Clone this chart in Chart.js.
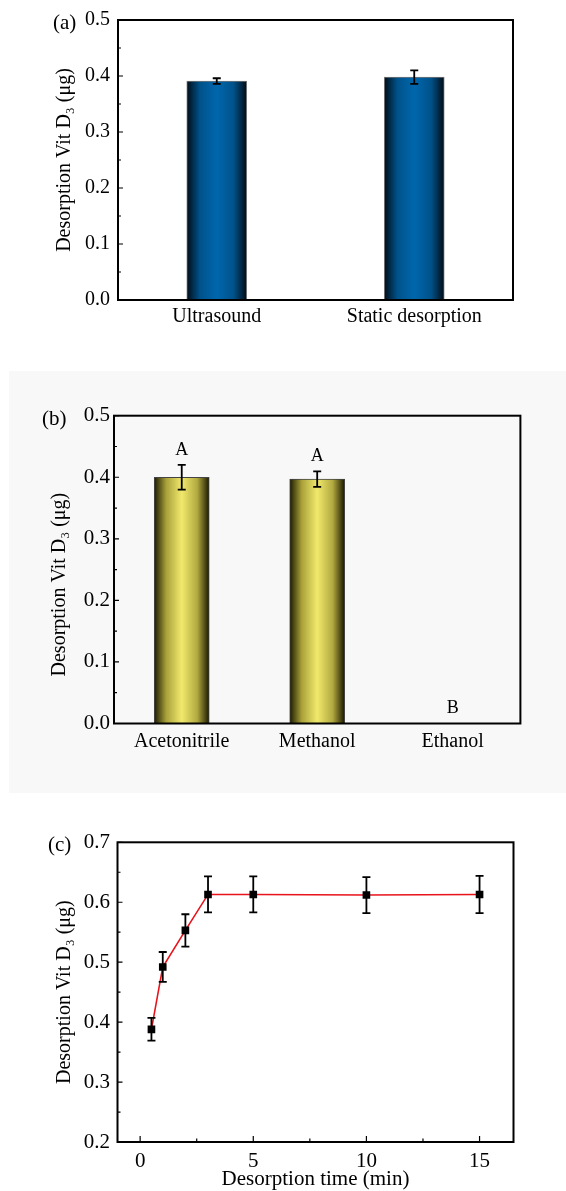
<!DOCTYPE html>
<html>
<head>
<meta charset="utf-8">
<title>Desorption of Vit D3</title>
<script src="https://cdn.jsdelivr.net/npm/chart.js@4"></script>
<style>
    html, body { margin: 0; padding: 0; background: #fff; }
    body { width: 566px; height: 1191px; position: relative; overflow: hidden; font-family: "Liberation Serif", serif; }
    .panel { position: absolute; left: 0; }
    .tag { position: absolute; font-size: 21px; line-height: 1; color: #000; }
    #bgB { position: absolute; left: 9px; top: 371px; width: 557px; height: 422px; background: #f8f8f8; }
</style>
</head>
<body>
<div id="bgB"></div>
<canvas id="chartA" class="panel" style="top:0px" width="566" height="345"></canvas>
<canvas id="chartB" class="panel" style="top:370px" width="566" height="410"></canvas>
<canvas id="chartC" class="panel" style="top:790px" width="566" height="401"></canvas>
<div class="tag" style="left:53px;top:12px">(a)</div>
<div class="tag" style="left:42px;top:408px">(b)</div>
<div class="tag" style="left:48px;top:834px">(c)</div>

<script>
// (a) desorption mode
const modeCats = ['Ultrasound', 'Static desorption'];
const modeVals = [0.391, 0.398];
const modeErr = [0.005, 0.012];

// (b) desorption solvent
const solventCats = ['Acetonitrile', 'Methanol', 'Ethanol'];
const solventVals = [0.400, 0.397, 0];
const solventErr = [0.020, 0.0125, 0];
const solventLetters = ['A', 'A', 'B'];

// (c) desorption time
const timeVals = [0.5, 1, 2, 3, 5, 10, 15];
const amountVals = [0.388, 0.492, 0.553, 0.613, 0.613, 0.612, 0.613];
const amountErr = [0.019, 0.025, 0.027, 0.030, 0.030, 0.030, 0.031];

// tick positions (labels only on the major ones)
const barYTicks = [0, 0.05, 0.1, 0.15, 0.2, 0.25, 0.3, 0.35, 0.4, 0.45, 0.5];
const timeYTicks = [0.2, 0.25, 0.3, 0.35, 0.4, 0.45, 0.5, 0.55, 0.6, 0.65, 0.7];
const timeXTicks = [0, 2.5, 5, 7.5, 10, 12.5, 15];

const yTitle = 'Desorption Vit D\u2083 (\u03bcg)';

const blueStops = [[0, '#020d18'], [0.22, '#00528a'], [0.5, '#0067ad'], [0.78, '#00528a'], [1, '#020b14']];
const yellowStops = [[0, '#1c1a00'], [0.22, '#aaa23a'], [0.5, '#f1e96c'], [0.78, '#b2aa40'], [1, '#1a1800']];

function serif(size, lineHeight) {
    return { family: 'Liberation Serif', size: size, lineHeight: lineHeight || 1.2 };
}

function isMultiple(v, step) {
    return Math.abs(v / step - Math.round(v / step)) < 1e-6;
}

function barGradient(ctx, stops, width) {
    const chart = ctx.chart;
    const xScale = chart.scales.x;
    if (ctx.type !== 'data' || !xScale) return stops[2][1];
    const cx = xScale.getPixelForValue(ctx.dataIndex);
    if (!isFinite(cx)) return stops[2][1];
    const g = chart.ctx.createLinearGradient(cx - width / 2, 0, cx + width / 2, 0);
    stops.forEach(s => g.addColorStop(s[0], s[1]));
    return g;
}

// error bars, optional letters, box frame and inward ticks
function decorPlugin(cfg) {
    return {
        id: 'decor',
        afterDatasetsDraw(chart) {
            const ctx = chart.ctx;
            const xs = chart.scales.x;
            const ys = chart.scales.y;
            const area = chart.chartArea;
            ctx.save();
            ctx.strokeStyle = '#000';
            ctx.lineWidth = 1.8;
            cfg.values.forEach((v, i) => {
                const e = cfg.errors[i];
                const x = xs.getPixelForValue(cfg.xs ? cfg.xs[i] : i);
                if (e > 0) {
                    const yt = ys.getPixelForValue(v + e);
                    const yb = ys.getPixelForValue(v - e);
                    ctx.beginPath();
                    ctx.moveTo(x, yt); ctx.lineTo(x, yb);
                    ctx.moveTo(x - 4, yt); ctx.lineTo(x + 4, yt);
                    ctx.moveTo(x - 4, yb); ctx.lineTo(x + 4, yb);
                    ctx.stroke();
                }
                if (cfg.letters) {
                    ctx.fillStyle = '#000';
                    ctx.font = '18px "Liberation Serif"';
                    ctx.textAlign = 'center';
                    ctx.textBaseline = 'middle';
                    ctx.fillText(cfg.letters[i], x, ys.getPixelForValue(v + e) - 15);
                }
            });

            // inward ticks
            ctx.lineWidth = 1.2;
            ctx.beginPath();
            ys.ticks.forEach(t => {
                const y = ys.getPixelForValue(t.value);
                const len = isMultiple(t.value, 0.1) ? 5 : 3;
                ctx.moveTo(area.left, y); ctx.lineTo(area.left + len, y);
            });
            if (cfg.xTicks) {
                xs.ticks.forEach(t => {
                    const x = xs.getPixelForValue(t.value);
                    const len = isMultiple(t.value, 5) ? 6 : 3.5;
                    ctx.moveTo(x, area.bottom); ctx.lineTo(x, area.bottom - len);
                });
            }
            ctx.stroke();

            // frame
            ctx.lineWidth = 2;
            ctx.strokeRect(area.left, area.top, area.right - area.left, area.bottom - area.top);
            ctx.restore();
        }
    };
}

function valueAxis(ticks, min, max, fontSize, pad, width, titleText, titlePad) {
    return {
        min: min,
        max: max,
        afterBuildTicks: s => { s.ticks = ticks.map(v => ({ value: v })); },
        afterFit: s => { s.width = width; },
        grid: { display: false, drawTicks: false },
        border: { display: false },
        ticks: {
            autoSkip: false,
            color: '#000',
            font: serif(fontSize),
            padding: pad,
            callback: v => isMultiple(v, 0.1) ? v.toFixed(1) : ''
        },
        title: {
            display: true,
            text: titleText,
            color: '#000',
            font: serif(20),
            padding: { top: titlePad, bottom: 0 }
        }
    };
}

function setupModeChart() {
    new Chart(document.getElementById('chartA'), {
        type: 'bar',
        data: {
            labels: modeCats,
            datasets: [{
                data: modeVals,
                backgroundColor: ctx => barGradient(ctx, blueStops, 60),
                borderColor: '#777',
                borderWidth: 1,
                barThickness: 60
            }]
        },
        options: {
            responsive: false,
            animation: false,
            layout: { padding: { top: 19, right: 53, left: 0, bottom: 0 } },
            plugins: { legend: { display: false }, tooltip: { enabled: false } },
            scales: {
                x: {
                    grid: { display: false, drawTicks: false },
                    border: { display: false },
                    ticks: { color: '#000', font: serif(20), padding: 5 },
                    afterFit: s => { s.height = 45; }
                },
                y: valueAxis(barYTicks, 0, 0.5, 20, 8, 118, yTitle, 53)
            }
        },
        plugins: [decorPlugin({ values: modeVals, errors: modeErr })]
    });
}

function setupSolventChart() {
    // trailing spaces push the title a little down, as in the figure
    const title = yTitle + '\u00a0\u00a0\u00a0\u00a0\u00a0\u00a0';
    new Chart(document.getElementById('chartB'), {
        type: 'bar',
        data: {
            labels: solventCats,
            datasets: [{
                data: solventVals,
                backgroundColor: ctx => barGradient(ctx, yellowStops, 55),
                borderColor: '#444',
                borderWidth: 1,
                barThickness: 55
            }]
        },
        options: {
            responsive: false,
            animation: false,
            layout: { padding: { top: 45.7, right: 45.6, left: 0, bottom: 0 } },
            plugins: { legend: { display: false }, tooltip: { enabled: false } },
            scales: {
                x: {
                    grid: { display: false, drawTicks: false },
                    border: { display: false },
                    ticks: { color: '#000', font: serif(20), padding: 6 },
                    afterFit: s => { s.height = 56.5; }
                },
                y: valueAxis(barYTicks, 0, 0.5, 21, 4, 114, title, 47.6)
            }
        },
        plugins: [decorPlugin({ values: solventVals, errors: solventErr, letters: solventLetters })]
    });
}

function setupTimeChart() {
    new Chart(document.getElementById('chartC'), {
        type: 'line',
        data: {
            datasets: [{
                data: timeVals.map((t, i) => ({ x: t, y: amountVals[i] })),
                borderColor: '#e8131b',
                borderWidth: 1.6,
                tension: 0,
                pointStyle: 'rect',
                pointRadius: 5.4,
                pointBorderWidth: 0,
                pointBackgroundColor: '#000',
                pointBorderColor: '#000'
            }]
        },
        options: {
            responsive: false,
            animation: false,
            layout: { padding: { top: 52.3, right: 52.5, left: 0, bottom: 0 } },
            plugins: { legend: { display: false }, tooltip: { enabled: false } },
            scales: {
                x: {
                    type: 'linear',
                    min: -1,
                    max: 16.5,
                    afterBuildTicks: s => { s.ticks = timeXTicks.map(v => ({ value: v })); },
                    afterFit: s => { s.height = 49; },
                    grid: { display: false, drawTicks: false },
                    border: { display: false },
                    ticks: {
                        autoSkip: false,
                        maxRotation: 0,
                        color: '#000',
                        font: serif(21),
                        padding: 7,
                        callback: v => isMultiple(v, 5) ? String(v) : ''
                    },
                    title: {
                        display: true,
                        text: 'Desorption time (min)',
                        color: '#000',
                        font: serif(21, 1.05),
                        padding: { top: 0, bottom: 0 }
                    }
                },
                y: valueAxis(timeYTicks, 0.2, 0.7, 21, 7.5, 117.5, yTitle, 52.8)
            }
        },
        plugins: [decorPlugin({ values: amountVals, errors: amountErr, xs: timeVals, xTicks: true })]
    });
}

setupModeChart();
setupSolventChart();
setupTimeChart();
</script>
</body>
</html>
